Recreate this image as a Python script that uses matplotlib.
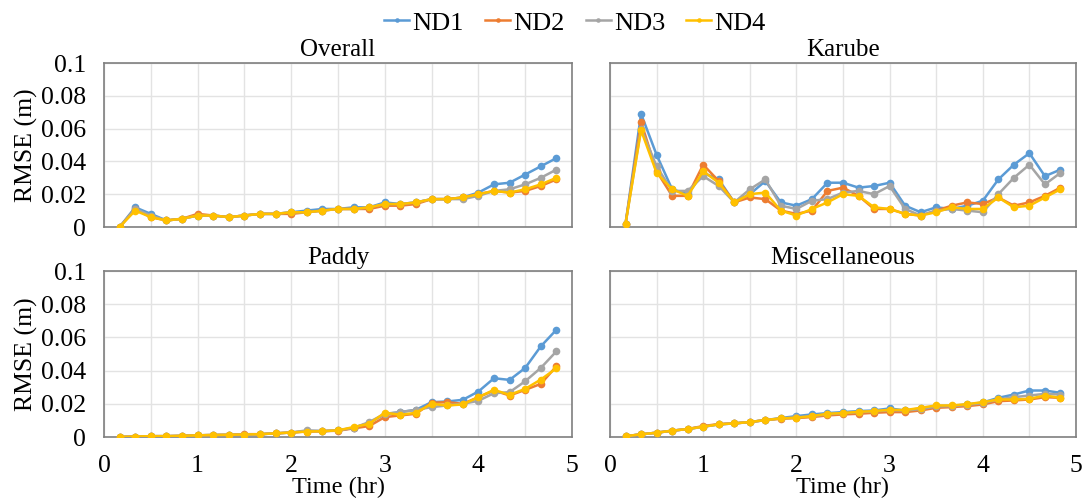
import numpy as np
import matplotlib
matplotlib.use("Agg")
import matplotlib.pyplot as plt
from matplotlib.ticker import MultipleLocator

plt.rcParams["font.family"] = "serif"
plt.rcParams["font.serif"] = ["Liberation Serif", "Times New Roman", "Nimbus Roman", "DejaVu Serif"]

# Time steps (hr): every 10 minutes from 10 min to 4 h 50 min
time_hr = np.arange(1, 30) / 6.0

series_names = ["ND1", "ND2", "ND3", "ND4"]
colors = ["#5B9BD5", "#ED7D31", "#A5A5A5", "#FFC000"]

overall_nd1 = [0.000, 0.012, 0.008, 0.004, 0.005, 0.007, 0.007, 0.006, 0.007, 0.008,
               0.008, 0.009, 0.010, 0.011, 0.011, 0.012, 0.012, 0.015, 0.014, 0.015,
               0.017, 0.017, 0.018, 0.021, 0.026, 0.027, 0.032, 0.037, 0.042]
overall_nd2 = [0.000, 0.011, 0.006, 0.004, 0.005, 0.008, 0.007, 0.006, 0.007, 0.008,
               0.008, 0.008, 0.009, 0.010, 0.011, 0.011, 0.011, 0.013, 0.013, 0.014,
               0.017, 0.017, 0.018, 0.020, 0.022, 0.021, 0.022, 0.025, 0.029]
overall_nd3 = [0.000, 0.011, 0.007, 0.004, 0.005, 0.007, 0.007, 0.006, 0.007, 0.008,
               0.008, 0.009, 0.009, 0.010, 0.011, 0.011, 0.012, 0.014, 0.014, 0.015,
               0.017, 0.017, 0.017, 0.019, 0.022, 0.023, 0.026, 0.030, 0.035]
overall_nd4 = [0.000, 0.010, 0.006, 0.004, 0.005, 0.007, 0.007, 0.006, 0.007, 0.008,
               0.008, 0.009, 0.009, 0.010, 0.011, 0.011, 0.012, 0.014, 0.014, 0.015,
               0.017, 0.017, 0.018, 0.020, 0.022, 0.021, 0.023, 0.026, 0.030]

karube_nd1 = [0.002, 0.069, 0.044, 0.023, 0.020, 0.033, 0.029, 0.015, 0.020, 0.028,
              0.015, 0.013, 0.017, 0.027, 0.027, 0.024, 0.025, 0.027, 0.013, 0.009,
              0.012, 0.011, 0.013, 0.016, 0.029, 0.038, 0.045, 0.031, 0.035]
karube_nd2 = [0.002, 0.064, 0.034, 0.019, 0.019, 0.038, 0.028, 0.015, 0.018, 0.017,
              0.010, 0.008, 0.010, 0.022, 0.024, 0.019, 0.011, 0.011, 0.008, 0.007,
              0.010, 0.013, 0.015, 0.014, 0.018, 0.013, 0.015, 0.019, 0.024]
karube_nd3 = [0.002, 0.060, 0.037, 0.022, 0.022, 0.031, 0.025, 0.015, 0.023, 0.029,
              0.013, 0.011, 0.016, 0.017, 0.021, 0.022, 0.020, 0.025, 0.011, 0.007,
              0.010, 0.011, 0.010, 0.009, 0.020, 0.030, 0.038, 0.026, 0.033]
karube_nd4 = [0.002, 0.059, 0.033, 0.023, 0.019, 0.034, 0.027, 0.015, 0.020, 0.021,
              0.010, 0.007, 0.011, 0.015, 0.020, 0.019, 0.012, 0.011, 0.008, 0.007,
              0.009, 0.012, 0.011, 0.011, 0.018, 0.012, 0.013, 0.018, 0.023]

paddy_nd1 = [0.000, 0.0003, 0.0005, 0.0005, 0.0007, 0.001, 0.0012, 0.0013, 0.0015, 0.0017,
             0.0022, 0.0027, 0.0035, 0.0035, 0.004, 0.0055, 0.0085, 0.0138, 0.015, 0.0164,
             0.021, 0.0214, 0.0224, 0.0274, 0.0354, 0.0344, 0.0416, 0.0546, 0.0646]
paddy_nd2 = [0.000, 0.0003, 0.0005, 0.0005, 0.0007, 0.001, 0.0012, 0.0013, 0.0017, 0.0017,
             0.0022, 0.0027, 0.0033, 0.0035, 0.0038, 0.0052, 0.0066, 0.012, 0.013, 0.014,
             0.0206, 0.021, 0.020, 0.024, 0.028, 0.025, 0.0284, 0.032, 0.0426]
paddy_nd3 = [0.000, 0.0003, 0.0005, 0.0005, 0.0007, 0.001, 0.0012, 0.0013, 0.0015, 0.0017,
             0.0022, 0.0027, 0.004, 0.0037, 0.004, 0.0055, 0.009, 0.014, 0.015, 0.0164,
             0.018, 0.019, 0.020, 0.0218, 0.0264, 0.027, 0.0336, 0.0416, 0.0516]
paddy_nd4 = [0.000, 0.0003, 0.0005, 0.0005, 0.0007, 0.001, 0.0012, 0.0013, 0.0015, 0.0017,
             0.0022, 0.0027, 0.0033, 0.0035, 0.004, 0.006, 0.008, 0.0146, 0.0134, 0.0146,
             0.020, 0.019, 0.0196, 0.024, 0.0284, 0.0254, 0.029, 0.0346, 0.0414]

misc_nd1 = [0.0005, 0.0016, 0.0026, 0.0038, 0.0048, 0.0062, 0.0076, 0.0082, 0.009, 0.0102,
            0.0114, 0.0126, 0.0136, 0.0144, 0.015, 0.0156, 0.016, 0.0172, 0.016, 0.0172,
            0.0186, 0.0188, 0.0196, 0.0208, 0.0236, 0.0256, 0.028, 0.028, 0.0266]
misc_nd2 = [0.0005, 0.0016, 0.0026, 0.0038, 0.0048, 0.0066, 0.0078, 0.0082, 0.009, 0.0102,
            0.0110, 0.0114, 0.0120, 0.0130, 0.0136, 0.0140, 0.0146, 0.0150, 0.0150, 0.0160,
            0.0176, 0.0180, 0.0186, 0.0196, 0.0216, 0.0220, 0.0226, 0.0240, 0.0236]
misc_nd3 = [0.0005, 0.0016, 0.0026, 0.0038, 0.0048, 0.0062, 0.0076, 0.0082, 0.009, 0.0102,
            0.0112, 0.0118, 0.0126, 0.0136, 0.0144, 0.0150, 0.0154, 0.0162, 0.0160, 0.0168,
            0.0184, 0.0186, 0.0194, 0.0204, 0.0226, 0.0240, 0.0250, 0.0260, 0.0256]
misc_nd4 = [0.0005, 0.0016, 0.0026, 0.0038, 0.0048, 0.0062, 0.0076, 0.0082, 0.009, 0.0102,
            0.0112, 0.0116, 0.0126, 0.0140, 0.0144, 0.0152, 0.0156, 0.0164, 0.0162, 0.0176,
            0.0190, 0.0190, 0.0198, 0.0210, 0.0226, 0.0226, 0.0230, 0.0250, 0.0236]

panels = [
    ("Overall", [overall_nd1, overall_nd2, overall_nd3, overall_nd4]),
    ("Karube", [karube_nd1, karube_nd2, karube_nd3, karube_nd4]),
    ("Paddy", [paddy_nd1, paddy_nd2, paddy_nd3, paddy_nd4]),
    ("Miscellaneous", [misc_nd1, misc_nd2, misc_nd3, misc_nd4]),
]

W, H = 1083, 500
fig = plt.figure(figsize=(W / 100, H / 100), dpi=100)

# axes boxes in pixels: (left, top, right, bottom)
boxes = [(104, 63, 572, 227), (610, 63, 1076, 227),
         (104, 271, 572, 437), (610, 271, 1076, 437)]

axes = []
for (l, t, r, b) in boxes:
    ax = fig.add_axes([l / W, 1 - b / H, (r - l) / W, (b - t) / H])
    axes.append(ax)

handles = []
for idx, (ax, (title, data)) in enumerate(zip(axes, panels)):
    for name, col, vals in zip(series_names, colors, data):
        h, = ax.plot(time_hr, vals, color=col, lw=1.8, marker="o", ms=5.5,
                     markeredgewidth=0, label=name, zorder=3)
        if idx == 0:
            handles.append(h)
    ax.set_xlim(0, 5)
    ax.set_ylim(0, 0.1)
    ax.xaxis.set_major_locator(MultipleLocator(1))
    ax.xaxis.set_minor_locator(MultipleLocator(0.5))
    ax.yaxis.set_major_locator(MultipleLocator(0.02))
    ax.grid(True, which="both", axis="x", color="#e3e3e3", lw=1)
    ax.grid(True, which="major", axis="y", color="#e3e3e3", lw=1)
    ax.set_axisbelow(True)
    for sp in ax.spines.values():
        sp.set_color("#7f7f7f")
        sp.set_linewidth(1.2)
    ax.tick_params(which="both", length=0, labelsize=18.5)
    ax.tick_params(axis="y", pad=13)
    ax.tick_params(axis="x", pad=13)
    ax.set_title(title, fontsize=18, pad=5)
    ax.yaxis.set_major_formatter(plt.FuncFormatter(lambda v, p: "0" if v == 0 else f"{v:g}"))
    if idx % 2 == 1:
        ax.tick_params(labelleft=False)
    else:
        ax.set_ylabel("RMSE (m)", fontsize=18.5, labelpad=2)
    if idx < 2:
        ax.tick_params(labelbottom=False)
    else:
        ax.set_xlabel("Time (hr)", fontsize=17.5, labelpad=0)

fig.legend(handles=handles, labels=series_names, loc="upper center",
           bbox_to_anchor=(0.531, 1.025), ncol=4, frameon=False, fontsize=19,
           handlelength=0.95, handletextpad=0.12, columnspacing=0.8,
           markerscale=0.6)

fig.savefig("out.png", dpi=100)
